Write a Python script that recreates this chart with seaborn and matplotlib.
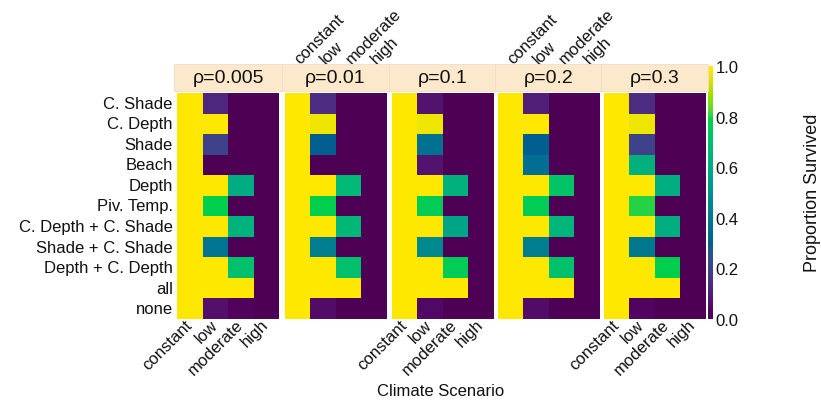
import numpy as np
import pandas as pd
import matplotlib
matplotlib.use("Agg")
import matplotlib.pyplot as plt
import seaborn as sns
from matplotlib.patches import Rectangle
from matplotlib.colors import ListedColormap

scenarios = ["C. Shade", "C. Depth", "Shade", "Beach", "Depth", "Piv. Temp.",
             "C. Depth + C. Shade", "Shade + C. Shade", "Depth + C. Depth", "all", "none"]
climate = ["constant", "low", "moderate", "high"]
rho_labels = ["ρ=0.005", "ρ=0.01", "ρ=0.1", "ρ=0.2", "ρ=0.3"]

# rows = scenarios, columns = climate (constant, low, moderate, high)
rho_0005 = [[1, 0.12, 0, 0], [1, 1, 0, 0], [1, 0.20, 0, 0], [1, 0, 0, 0],
            [1, 1, 0.61, 0], [1, 0.78, 0, 0], [1, 1, 0.64, 0], [1, 0.38, 0, 0],
            [1, 1, 0.70, 0], [1, 1, 1, 0], [1, 0.06, 0.02, 0]]
rho_001 = [[1, 0.14, 0, 0], [1, 0.97, 0, 0], [1, 0.30, 0, 0], [1, 0, 0, 0],
           [1, 1, 0.67, 0], [1, 0.78, 0, 0], [1, 1, 0.66, 0], [1, 0.42, 0, 0],
           [1, 1, 0.70, 0], [1, 1, 1, 0], [1, 0.05, 0, 0]]
rho_01 = [[1, 0.07, 0, 0], [1, 0.97, 0, 0], [1, 0.37, 0, 0], [1, 0.07, 0, 0],
          [1, 1, 0.63, 0], [1, 0.76, 0, 0], [1, 1, 0.58, 0], [1, 0.47, 0, 0],
          [1, 1, 0.76, 0], [1, 1, 1, 0], [1, 0.04, 0, 0]]
rho_02 = [[1, 0.10, 0, 0], [1, 1, 0, 0], [1, 0.30, 0, 0], [1, 0.36, 0, 0],
          [1, 1, 0.72, 0], [1, 0.76, 0, 0], [1, 1, 0.65, 0], [1, 0.42, 0, 0],
          [1, 1, 0.70, 0], [1, 1, 1, 0], [1, 0.05, 0, 0]]
rho_03 = [[1, 0.14, 0, 0], [1, 0.97, 0, 0], [1, 0.20, 0, 0], [1, 0.63, 0, 0],
          [1, 1, 0.62, 0], [1, 0.80, 0, 0], [1, 1, 0.62, 0], [1, 0.40, 0, 0],
          [1, 1, 0.78, 0], [1, 1, 1, 0], [1, 0.03, 0, 0]]
panels = [rho_0005, rho_001, rho_01, rho_02, rho_03]

sns.set_style("white")
plt.rcParams["font.family"] = ["Liberation Sans", "DejaVu Sans"]
plt.rcParams["text.color"] = "#111111"
plt.rcParams["xtick.color"] = "#111111"
plt.rcParams["ytick.color"] = "#111111"


def saturated(rgb):
    # viridis rendered with a wide-gamut (vivid) look, as in the reference image
    lin = np.clip(rgb, 0, 1) ** 2.2
    M = np.array([[1.3982, -0.3982, 0.0], [0.0, 1.0, 0.0], [0.0, -0.0429, 1.0429]])
    out = np.clip(lin @ M.T, 0, 1)
    return np.where(out <= 0.0031308, 12.92 * out, 1.055 * out ** (1 / 2.4) - 0.055)


base = plt.get_cmap("viridis")(np.linspace(0, 1, 256))[:, :3]
cmap = ListedColormap(saturated(base))

W, H = 821, 406
fig = plt.figure(figsize=(W / 100, H / 100), dpi=100)

lefts = [177, 284.5, 391.5, 497.5, 603.5]
pw = 102
top_px, bot_px = 94, 320
cax = fig.add_axes([708 / W, 1 - 320 / H, 5 / W, 253 / H])

cb = None
for i, (vals, lab) in enumerate(zip(panels, rho_labels)):
    ax = fig.add_axes([lefts[i] / W, 1 - bot_px / H, pw / W, (bot_px - top_px) / H])
    df = pd.DataFrame(vals, index=scenarios, columns=climate)
    sns.heatmap(df, ax=ax, cmap=cmap, vmin=0, vmax=1,
                cbar=(i == 4), cbar_ax=(cax if i == 4 else None),
                xticklabels=climate, yticklabels=(scenarios if i == 0 else False),
                linewidths=0)
    if i == 4:
        cb = ax.collections[0].colorbar
    ax.set_xlabel("")
    ax.set_ylabel("")
    if i == 0:
        ax.tick_params(axis="y", length=0, pad=3, labelsize=12)
        for t in ax.get_yticklabels():
            t.set_rotation(0)
    else:
        ax.tick_params(axis="y", left=False, labelleft=False)
    if i % 2 == 0:
        ax.tick_params(axis="x", bottom=True, length=0, pad=2, labelsize=12)
        for t in ax.get_xticklabels():
            t.set_rotation(45)
            t.set_ha("right")
            t.set_va("center")
            t.set_rotation_mode("anchor")
    else:
        ax.xaxis.tick_top()
        ax.tick_params(axis="x", top=True, bottom=False, labeltop=True, labelbottom=False,
                       length=0, pad=23, labelsize=12)
        for t in ax.get_xticklabels():
            t.set_rotation(45)
            t.set_ha("left")
            t.set_va("center")
            t.set_rotation_mode("anchor")
    # facet strip
    ax.add_patch(Rectangle((-0.025, 1.009), 1.05, 0.118, transform=ax.transAxes,
                           clip_on=False, facecolor="#FCE8CB", edgecolor="#F3DCC6", lw=0.6))
    ax.text(0.5, 1.068, lab, transform=ax.transAxes, ha="center", va="center",
            fontsize=14, color="#111111")

cax.tick_params(length=0, labelsize=12, pad=2)
cb.set_ticks([0, 0.2, 0.4, 0.6, 0.8, 1.0])
cb.set_ticklabels(["0.0", "0.2", "0.4", "0.6", "0.8", "1.0"])
cb.outline.set_visible(False)

fig.text(812 / W, 1 - 193 / H, "Proportion Survived", rotation=90, ha="center",
         va="center", fontsize=13)
fig.text(441 / W, 1 - 392 / H, "Climate Scenario", ha="center", va="center", fontsize=12)

fig.savefig("out.png", dpi=100)
